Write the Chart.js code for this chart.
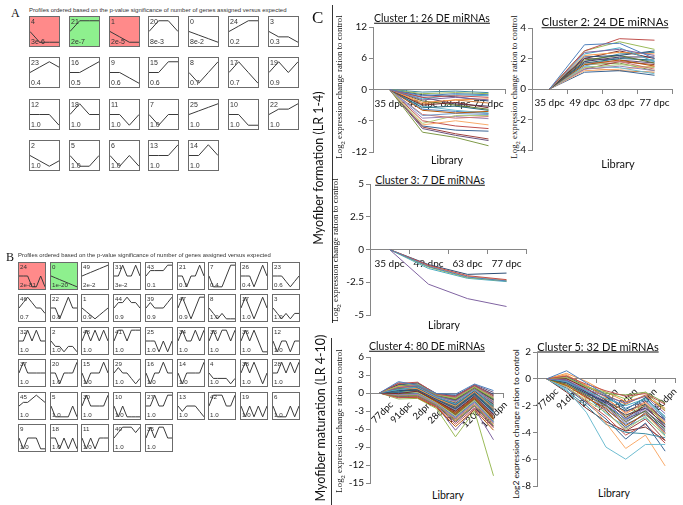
<!DOCTYPE html>
<html>
<head>
<meta charset="utf-8">
<script src="https://cdn.jsdelivr.net/npm/chart.js@4.4.1/dist/chart.umd.min.js"></script>
<style>
  html, body { margin: 0; padding: 0; background: #fff; }
  body { position: relative; width: 683px; height: 505px; overflow: hidden; font-family: Lato, "Liberation Sans", sans-serif; color: #111; }
  .t { position: absolute; white-space: nowrap; line-height: 1; }
  .rot { transform: translate(-50%, -50%) rotate(-90deg); }
  .ctr { transform: translate(-50%, -50%); }
  .serif { font-family: "Liberation Serif", "DejaVu Serif", serif; }
  .box { position: absolute; box-sizing: border-box; border: 1px solid #6b6b6b; }
  .box canvas { display: block; }
  .bl { position: absolute; font-family: "Liberation Sans", Arial, sans-serif; color: #333; line-height: 1; white-space: nowrap; }
  .vline { position: absolute; width: 1px; background: #333; }
</style>
</head>
<body>
<script>
// ---- panel A profiles (4 time points) ----
const aIds = [4, 21, 1, 20, 0, 24, 3, 23, 16, 9, 15, 8, 17, 19, 12, 18, 11, 7, 25, 10, 22, 2, 5, 6, 13, 14];
const aPvals = ['3e-6', '2e-7', '2e-5', '8e-3', '8e-2', '0.2', '0.3', '0.4', '0.5', '0.6', '0.6', '0.7', '0.7', '0.9',
  '1.0', '1.0', '1.0', '1.0', '1.0', '1.0', '1.0', '1.0', '1.0', '1.0', '1.0', '1.0'];
const aProfiles = [
  [0, -1, -1, -1], [0, 1, 1, 1], [0, -1, -2, -2], [0, 1, 1, 0], [0, -1, -2, -3], [0, 1, 2, 2], [0, -1, -1, -2],
  [0, 1, 2, 1], [0, 0, 1, 2], [0, 0, -1, -2], [0, 0, 1, 1], [0, -1, 0, 1], [0, 1, 0, -1], [0, 1, 0, 1],
  [0, 0, 0, -1], [0, 1, 0, 0], [0, 0, -1, 0], [0, -1, 0, 0], [0, 1, 2, 3], [0, 0, -1, -1], [0, 1, 1, 2],
  [0, -1, -2, -1], [0, -1, -1, 0], [0, -1, 0, -1], [0, 0, 0, 1], [0, 0, 1, 0]
];
const aColors = ['#ff8a8a', '#8ef08e', '#ff8a8a'];

// ---- panel B profiles (7 time points) ----
const bIds = [24, 0, 49, 31, 43, 21, 7, 26, 23,
  46, 22, 1, 44, 39, 47, 8, 17, 3,
  32, 2, 48, 41, 25, 34, 33, 36, 12,
  37, 20, 15, 29, 16, 14, 4, 38, 28,
  45, 5, 30, 10, 27, 13, 42, 19, 6,
  9, 18, 11, 40, 35];
const bPvals = ['2e-81', '1e-20', '2e-2', '3e-2', '0.1', '0.1', '0.4', '0.4', '0.6',
  '0.7', '0.8', '0.9', '0.9', '0.9', '0.9', '1.0', '1.0', '1.0'];
const bProfiles = [
  [0, 0, 0, -1, -1, 0, -1], [0, -1, -2, -3, -4, -5, -6], [0, 1, 2, 3, 4, 5, 6], [0, 0, 1, 0, 0, 1, 0], [0, 1, 1, 1, 1, 2, 2],
  [0, 0, -1, 0, 0, 1, 0], [0, -1, -1, -1, 0, 1, 1], [0, 0, 0, -1, 0, 1, 0], [0, 0, 0, -1, -2, -1, 0],
  [0, 1, 2, 1, 0, 0, -1], [0, 0, -1, 0, 1, 0, 0], [0, -1, -2, -3, -2, -1, 0], [0, 1, 1, 2, 1, 1, 0], [0, 1, 0, 0, 0, 1, 2],
  [0, 1, 0, -1, 0, 1, 1], [0, -1, -2, -1, -2, -2, -2], [0, 1, 0, -1, 0, 1, 0], [0, -1, -2, -1, -2, -1, -1],
  [0, 0, 1, 0, 1, 0, 0], [0, -1, -1, -2, -1, -1, -2], [0, 1, 0, 1, 0, 1, 0], [0, 1, 1, 0, 1, 1, 1], [0, 0, 0, -1, 0, -1, 0],
  [0, 1, 0, 0, 1, 0, 1], [0, 1, 0, 1, 1, 0, 1], [0, 1, 0, 1, 0, -1, -1], [0, -1, 0, 0, -1, 0, 0],
  [0, 1, 0, 0, 0, 0, 0], [0, 0, -1, 0, 0, 0, 1], [0, -1, 0, 0, 0, 1, 0], [0, 1, 0, 0, -1, -2, -1], [0, -1, 0, 0, 1, 0, 0],
  [0, -1, 0, 0, 0, 0, 1], [0, -1, -1, -1, -1, -2, -1], [0, 1, 0, 1, 0, -1, 0], [0, 0, 1, 0, 1, 0, 1],
  [0, 1, 1, 2, 3, 2, 1], [0, -1, -1, -1, -1, 0, -1], [0, 1, 0, 0, 0, 0, 1], [0, -1, 0, -1, -1, -1, -1], [0, 0, 1, 0, 0, 1, 1],
  [0, -1, 0, 0, 0, -1, -2], [0, 1, 1, 1, 0, 0, 1], [0, -1, 0, -1, 0, -1, 0], [0, -1, -1, -1, 0, -1, 0],
  [0, -1, 0, 0, 0, -1, -1], [0, 0, -1, 0, -1, 0, -1], [0, -1, 0, -1, 0, 0, 0], [0, 1, 2, 2, 2, 1, 2], [0, 1, 0, 1, 1, 0, 0]
];
const bColors = ['#ff8a8a', '#8ef08e'];

// ---- panel C clusters ----
const dpcLabels = ['35 dpc', '49 dpc', '63 dpc', '77 dpc'];
const devLabels = ['77dpc', '91dpc', '2dpn', '28dpn', '90dpn', '120dpn', '180dpn'];

const cluster1 = [
  [0, -1.2, -0.8, -1.0], [0, -1.5, -1.2, -1.5], [0, -0.8, -0.6, -0.8], [0, -2.0, -1.5, -2.0], [0, -1.8, -1.0, -1.2],
  [0, -2.5, -2.0, -1.8], [0, -1.0, -1.4, -2.2], [0, -3.0, -2.5, -3.5], [0, -2.2, -3.0, -3.8], [0, -1.5, -2.8, -3.2],
  [0, -3.5, -3.2, -4.0], [0, -4.0, -4.5, -4.2], [0, -5.0, -4.6, -4.8], [0, -4.8, -5.5, -5.2], [0, -6.5, -5.0, -5.0],
  [0, -5.5, -5.2, -5.6], [0, -3.2, -4.0, -4.5], [0, -6.8, -6.0, -6.8], [0, -7.0, -7.8, -8.0], [0, -7.2, -8.5, -9.5],
  [0, -8.2, -9.2, -10.8], [0, -7.5, -8.8, -9.8], [0, -0.5, -0.3, -0.6], [0, -2.8, -2.0, -2.6], [0, -3.8, -4.2, -4.6],
  [0, -6.0, -7.0, -7.5]
];
const cluster2 = [
  [0, 2.9, 3.0, 2.0], [0, 2.5, 3.3, 3.2], [0, 2.5, 3.1, 2.6], [0, 2.4, 2.6, 2.2], [0, 2.3, 2.7, 1.8], [0, 2.2, 2.4, 2.3],
  [0, 2.1, 2.2, 2.5], [0, 2.0, 2.5, 2.0], [0, 1.9, 2.2, 1.7], [0, 1.8, 2.1, 2.1], [0, 1.7, 2.0, 1.9], [0, 1.6, 1.9, 1.5],
  [0, 1.5, 2.1, 1.8], [0, 1.7, 1.8, 1.3], [0, 1.4, 1.6, 1.4], [0, 1.3, 1.5, 1.2], [0, 1.5, 1.4, 1.0], [0, 1.2, 1.3, 1.5],
  [0, 1.1, 1.2, 0.9], [0, 1.3, 1.8, 1.6], [0, 1.6, 1.7, 1.2], [0, 2.0, 1.9, 1.7], [0, 1.8, 2.3, 2.4], [0, 1.4, 1.2, 1.1]
];
const cluster3 = [
  [0, -1.3, -2.1, -2.4], [0, -1.2, -2.0, -2.3], [0, -1.35, -2.15, -2.4], [0, -2.65, -3.75, -4.35],
  [0, -1.45, -2.2, -2.45], [0, -1.25, -2.05, -2.35], [0, -1.15, -1.9, -1.8]
];
const cluster4 = [
  [0, 1.9, 1.3, -0.1, -0.2, 1.5, 0.4], [0, 1.6, 1.8, -0.2, -0.6, 1.3, -0.4], [0, 1.2, 1.5, -0.3, -0.9, 1.0, -0.9],
  [0, 0.9, 1.2, -0.5, -1.3, 0.7, -1.5], [0, 0.6, 1.0, -0.7, -1.8, 0.5, -2.1], [0, 1.1, 0.7, -0.9, -2.2, 0.2, -2.6],
  [0, 0.4, 0.5, -1.1, -2.6, -0.2, -3.1], [0, -0.1, 0.3, -1.3, -3.0, -0.5, -3.6], [0, 0.7, 1.1, -0.4, -1.1, 0.9, -1.1],
  [0, 1.4, 0.9, -0.8, -1.7, 0.3, -1.9], [0, 0.2, 0.6, -1.0, -2.3, -0.1, -2.8], [0, 0.9, 0.4, -1.5, -3.4, -0.8, -4.2],
  [0, 0.5, 0.8, -0.6, -1.4, 0.4, -1.6], [0, 1.0, 1.4, -0.2, -0.8, 1.1, -0.7], [0, 0.3, 0.1, -1.6, -3.8, -1.2, -4.6],
  [0, -0.3, -0.2, -1.8, -4.2, -1.6, -5.0], [0, 0.8, 0.5, -1.2, -2.9, -0.4, -3.3], [0, 1.2, 1.0, -0.6, -1.6, 0.6, -1.4],
  [0, 0.1, 0.3, -0.9, -2.0, 0.1, -2.5], [0, 0.6, 0.2, -1.4, -3.1, -0.7, -3.9], [0, -0.5, -0.4, -2.0, -4.6, -2.0, -5.4],
  [0, 1.7, 1.5, -0.3, -0.5, 1.4, 0.1], [0, 0.4, 0.7, -0.8, -1.9, 0.2, -2.3], [0, 0.9, 0.6, -1.1, -2.5, -0.2, -2.9],
  [0, 0.2, -0.1, -1.7, -4.0, -1.4, -4.8], [0, -0.8, -0.6, -2.3, -5.2, -2.5, -5.8], [0, 1.1, 1.2, -0.4, -1.0, 0.8, -0.8],
  [0, 0.5, 0.3, -1.3, -2.7, -0.4, -3.4], [0, 0.0, 0.2, -1.0, -2.2, -0.1, -2.6], [0, 0.7, 0.9, -0.7, -1.5, 0.5, -1.7],
  [0, 1.3, 1.7, -0.1, -0.4, 1.2, -0.2], [0, 0.3, 0.5, -1.2, -3.3, -0.9, -4.4], [0, -0.2, 0.0, -1.5, -3.6, -1.1, -4.1],
  [0, 0.8, 1.0, -0.6, -1.2, 0.7, -1.2], [0, 0.6, 0.4, -1.0, -2.4, -0.3, -3.0], [0, 1.0, 0.8, -0.7, -1.9, 0.1, -2.2],
  [0, 0.2, 0.6, -0.9, -2.1, 0.0, -2.7], [0, -0.4, -0.3, -1.9, -4.4, -1.8, -5.2], [0, 1.5, 1.1, -0.4, -0.9, 1.0, -0.6],
  [0, 0.4, 0.2, -1.3, -3.0, -0.6, -3.7], [0, 0.9, 1.3, -0.5, -1.3, 0.6, -1.3], [0, 0.1, -0.2, -1.6, -3.9, -1.3, -4.5],
  [0, 0.7, 0.5, -1.1, -2.6, -0.3, -3.2], [0, 1.2, 0.9, -0.8, -1.6, 0.4, -1.6], [0, 0.5, 0.7, -0.7, -1.7, 0.3, -2.0],
  [0, -0.6, -0.5, -2.1, -4.9, -2.2, -5.6], [0, 0.3, 0.4, -1.1, -2.5, -0.2, -3.0], [0, 0.8, 0.6, -1.0, -2.3, 0.0, -2.5],
  [0, 1.4, 1.6, -0.2, -0.7, 1.3, -0.3], [0, 0.0, 0.1, -1.4, -3.5, -1.0, -4.3], [0, 0.6, 0.8, -0.6, -1.4, 0.4, -1.5],
  [0, 1.0, 0.5, -1.2, -2.8, -0.5, -3.5], [0, -0.3, -0.1, -1.7, -4.1, -1.5, -4.9], [0, 0.4, 0.6, -0.9, -2.0, 0.1, -2.4],
  [0, 0.9, 1.1, -0.5, -1.1, 0.8, -1.0], [0, 0.2, 0.0, -1.5, -3.7, -1.2, -4.7], [0, 0.7, 0.3, -1.3, -2.9, -0.6, -3.6],
  [0, 1.1, 1.4, -0.3, -0.8, 1.1, -0.5], [0, 0.5, 0.2, -1.1, -2.7, -0.4, -3.1], [0, -0.7, -0.8, -2.4, -5.6, -2.8, -6.2],
  [0, 0.3, 0.5, -0.8, -1.8, 0.2, -2.2], [0, 0.8, 0.7, -0.9, -2.2, 0.0, -2.6], [0, 0.1, 0.3, -1.2, -3.2, -0.8, -3.8],
  [0, 1.2, 1.0, -0.6, -1.3, 0.7, -1.3], [0, 0.6, 0.4, -1.4, -3.4, -1.0, -4.0], [0, -0.2, -0.3, -1.8, -4.3, -1.7, -5.1],
  [0, 0.9, 1.2, -0.4, -1.0, 0.9, -0.9], [0, 0.4, 0.1, -1.0, -2.4, -0.2, -2.9], [0, 0.2, 0.4, -1.3, -3.0, -0.7, -3.5],
  [0, 1.0, 0.8, -0.7, -1.7, 0.4, -1.8], [0, 0.5, 0.6, -1.1, -2.6, -0.5, -3.3], [0, -0.4, -0.2, -1.9, -4.7, -2.1, -5.5],
  [0, 0.7, 0.9, -0.6, -1.5, 0.5, -1.4], [0, 0.3, 0.2, -1.2, -2.9, -0.6, -3.4], [0, -1.0, -0.9, -2.6, -7.3, -3.0, -13.8],
  [0, -0.6, -0.7, -2.2, -6.2, -2.6, -7.8], [0, 0.8, 0.6, -0.8, -1.9, 0.3, -2.1], [0, 0.1, 0.0, -1.6, -3.6, -1.1, -4.3],
  [0, 1.3, 1.2, -0.5, -1.2, 0.8, -1.1], [0, 0.4, 0.3, -1.0, -2.3, -0.3, -2.8]
];
const cluster5 = [
  [0, 0.6, -0.3, -1.2, -2.2, -1.6, -3.0], [0, 0.2, -0.4, -0.9, -1.3, -1.1, -1.9], [0, 0.1, -0.6, -1.0, -1.5, -1.0, -2.3],
  [0, -0.1, -0.8, -1.3, -1.8, -1.3, -2.6], [0, -0.2, -0.9, -1.5, -2.0, -1.5, -2.8], [0, 0.3, -0.5, -1.4, -2.6, -1.8, -3.3],
  [0, -0.3, -1.1, -1.7, -2.4, -1.9, -3.1], [0, 0.0, -0.7, -1.6, -2.9, -2.0, -3.6], [0, -0.4, -1.2, -2.0, -3.2, -2.4, -3.8],
  [0, -0.1, -1.0, -1.8, -2.7, -2.2, -3.4], [0, 0.2, -0.6, -1.3, -2.3, -1.4, -2.9], [0, -0.5, -1.4, -2.2, -3.5, -2.6, -4.1],
  [0, -0.2, -0.9, -1.9, -3.0, -2.1, -3.5], [0, 0.1, -0.8, -1.5, -2.5, -1.7, -3.2], [0, -0.6, -1.6, -2.5, -3.8, -2.8, -4.3],
  [0, -0.3, -1.2, -2.1, -3.3, -2.3, -3.9], [0, -0.8, -2.5, -5.1, -6.0, -4.9, -4.9], [0, -0.4, -1.5, -3.3, -5.2, -4.2, -6.5],
  [0, -0.7, -1.8, -3.0, -4.5, -3.3, -5.4], [0, -0.5, -1.3, -2.4, -3.9, -3.0, -4.6], [0, 0.0, -0.6, -1.1, -1.2, -1.0, -1.8],
  [0, -0.2, -1.0, -1.9, -3.7, -2.5, -4.0], [0, -0.9, -2.0, -3.4, -4.0, -4.1, -4.4], [0, 0.1, -0.5, -1.2, -1.9, -1.2, -2.4],
  [0, -0.3, -1.1, -2.3, -3.4, -2.7, -3.7], [0, -0.6, -1.7, -2.8, -4.2, -3.4, -4.8], [0, 0.2, -0.7, -1.6, -2.8, -1.9, -3.4],
  [0, -0.1, -0.9, -1.7, -3.1, -2.2, -3.0], [0, -0.4, -1.3, -2.6, -3.6, -2.9, -4.2], [0, 0.4, -0.2, -1.0, -1.7, -1.3, -2.2],
  [0, -0.2, -1.0, -2.0, -3.0, -2.4, -3.6], [0, -1.0, -2.2, -3.2, -3.9, -3.6, -4.6]
];

const PAL = ['#4F81BD', '#C0504D', '#9BBB59', '#8064A2', '#4BACC6', '#F79646',
  '#2C4D75', '#772C2A', '#5F7530', '#4D3B62', '#276A7C', '#B65708',
  '#729ACA', '#CD7371', '#AFC97A', '#9983B5', '#6FBDD1', '#F9AB6B',
  '#3A6595', '#9E413E', '#7F9A48', '#69537E', '#3E8DA3', '#CC7B38'];
const AX = '#868686';
const FONT = 'Lato, "Liberation Sans", sans-serif';

function addText(html, x, y, css, cls) {
  const d = document.createElement('div');
  d.className = 't ' + (cls || '');
  d.style.cssText = `left:${x}px;top:${y}px;` + (css || '');
  d.innerHTML = html;
  document.body.appendChild(d);
  return d;
}

function vline(x, y1, y2) {
  const d = document.createElement('div');
  d.className = 'vline';
  d.style.cssText = `left:${x}px;top:${y1}px;height:${y2 - y1}px`;
  document.body.appendChild(d);
}

function profileBox(x, y, w, h, id, pval, prof, fill, k, fs) {
  const d = document.createElement('div');
  d.className = 'box';
  d.style.cssText = `left:${x}px;top:${y}px;width:${w}px;height:${h}px;background:${fill || '#fff'}`;
  const cv = document.createElement('canvas');
  cv.width = w - 2; cv.height = h - 2;
  d.appendChild(cv);
  const n = document.createElement('div');
  n.className = 'bl';
  n.style.cssText = `left:1px;top:1px;font-size:${fs}px`;
  n.textContent = id;
  const p = document.createElement('div');
  p.className = 'bl';
  p.style.cssText = `left:1px;bottom:1px;font-size:${fs}px`;
  p.textContent = pval;
  d.appendChild(n); d.appendChild(p);
  document.body.appendChild(d);
  const m = Math.max(...prof.map(Math.abs)) || 1;
  new Chart(cv, {
    type: 'line',
    data: { labels: prof.map((_, i) => i), datasets: [{ data: prof, borderColor: '#3a3a3a', borderWidth: 1, pointRadius: 0, tension: 0 }] },
    options: {
      responsive: false, animation: false, events: [],
      plugins: { legend: { display: false }, tooltip: { enabled: false } },
      layout: { padding: 0 },
      scales: { x: { display: false }, y: { display: false, min: -m * k, max: m * k } }
    }
  });
}

function clusterChart(c) {
  const yW = 34, pl = 2, pr = 8, pt = 8, pb = 10;
  const left = c.L - yW - pl, top = c.T - pt;
  const w = c.R + pr - left, h = c.B + pb - top;
  const cv = document.createElement('canvas');
  cv.width = w; cv.height = h;
  cv.style.cssText = `position:absolute;left:${left}px;top:${top}px;width:${w}px;height:${h}px`;
  document.body.appendChild(cv);
  new Chart(cv, {
    type: 'line',
    data: {
      labels: c.labels,
      datasets: c.series.map((s, i) => ({ data: s, borderColor: PAL[i % PAL.length], borderWidth: 1, pointRadius: 0, tension: 0, fill: false }))
    },
    options: {
      responsive: false, animation: false, events: [],
      plugins: { legend: { display: false }, tooltip: { enabled: false } },
      layout: { padding: { left: pl, right: pr, top: pt, bottom: pb } },
      scales: {
        x: {
          position: { y: 0 }, offset: true,
          grid: { drawOnChartArea: false, drawTicks: true, tickLength: 4, color: AX, offset: true },
          border: { display: true, color: AX, width: 1 },
          ticks: { autoSkip: false, maxRotation: c.rot, minRotation: c.rot, labelOffset: c.lo || 0, padding: c.tp || 1,
            color: '#111', font: { family: FONT, size: c.xfs || 10 } },
          afterFit(s) { s.height = 0; s.paddingLeft = 0; s.paddingRight = 0; }
        },
        y: {
          min: c.ymin, max: c.ymax,
          ticks: { stepSize: c.step, color: '#111', padding: 2, font: { family: FONT, size: 10 } },
          grid: { drawOnChartArea: false, drawTicks: true, tickLength: 4, color: AX },
          border: { display: true, color: AX, width: 1 },
          afterFit(s) { s.width = yW; s.paddingTop = 0; s.paddingBottom = 0; }
        }
      }
    }
  });
}

// ---- panel A ----
addText('A', 11, 7, 'font-size:12px;', 'serif');
addText('Profiles ordered based on the p-value significance of number of genes assigned versus expected', 29, 7,
  'font-family:"Liberation Sans",Arial,sans-serif;font-size:6px;color:#333;');
aIds.forEach((id, i) => {
  const col = i % 7, row = Math.floor(i / 7);
  profileBox(Math.round(29 + col * 39.8), Math.round(15.5 + row * 41.5), 31, 31, id, aPvals[i], aProfiles[i], aColors[i], 1.35, 7);
});

// ---- panel B ----
addText('B', 6, 251, 'font-size:12px;', 'serif');
addText('Profiles ordered based on the p-value significance of number of genes assigned versus expected', 18, 253,
  'font-family:"Liberation Sans",Arial,sans-serif;font-size:5.9px;color:#333;');
bIds.forEach((id, i) => {
  const col = i % 9, row = Math.floor(i / 9);
  profileBox(Math.round(18 + col * 31.7), Math.round(262 + row * 32.4), 28, 28, id, bPvals[i] || '1.0', bProfiles[i], bColors[i], 1.2, 6.2);
});

// ---- panel C ----
addText('C', 312, 9, 'font-size:17px;', 'serif');
vline(332, 5, 323);
vline(331, 338, 505);
addText('Myofiber formation (LR 1-4)', 319, 168, 'font-size:12.5px;', 'rot');
addText('Myofiber maturation (LR 4-10)', 321, 418, 'font-size:12.5px;', 'rot');

const ylab = 'Log<sub style="font-size:0.75em">2</sub> expression change ration to control';
addText(ylab, 341, 87, 'font-size:8.8px;', 'rot serif');
addText(ylab, 516, 87, 'font-size:8.8px;', 'rot serif');
addText(ylab, 337, 250, 'font-size:8.8px;', 'rot serif');
addText(ylab, 341, 421, 'font-size:8.8px;', 'rot serif');
addText('Log2 expression change ration to control', 516, 424, 'font-size:8.4px;', 'rot');

const titleCss = 'text-decoration:underline;';
addText('Cluster 1: 26 DE miRNAs', 432, 18, titleCss + 'font-size:10.5px;', 'ctr');
addText('Cluster 2: 24 DE miRNAs', 605, 22, titleCss + 'font-size:11.5px;', 'ctr');
addText('Cluster 3: 7 DE miRNAs', 430, 180, titleCss + 'font-size:10.5px;', 'ctr');
addText('Cluster 4: 80 DE miRNAs', 427, 346, titleCss + 'font-size:10.5px;', 'ctr');
addText('Cluster 5: 32 DE miRNAs', 598, 346, titleCss + 'font-size:11px;', 'ctr');

addText('Library', 447, 160, 'font-size:10.5px;', 'ctr');
addText('Library', 618, 163, 'font-size:11px;', 'ctr');
addText('Library', 444, 325, 'font-size:10.5px;', 'ctr');
addText('Library', 448, 495, 'font-size:10.5px;', 'ctr');
addText('Library', 614, 493, 'font-size:10.5px;', 'ctr');

clusterChart({ L: 373, R: 505, T: 27, B: 152, ymin: -12, ymax: 12, step: 6, labels: dpcLabels, series: cluster1, rot: 0, tp: 4 });
clusterChart({ L: 532, R: 672, T: 28, B: 150, ymin: -4, ymax: 4, step: 2, labels: dpcLabels, series: cluster2, rot: 0, tp: 4 });
clusterChart({ L: 370, R: 526, T: 184, B: 315, ymin: -5, ymax: 5, step: 2.5, labels: dpcLabels, series: cluster3, rot: 0, tp: 4 });
clusterChart({ L: 370, R: 503, T: 357, B: 483, ymin: -15, ymax: 6, step: 3, labels: devLabels, series: cluster4, rot: 45, lo: 12, tp: 2, xfs: 9.5 });
clusterChart({ L: 537, R: 675, T: 352, B: 486, ymin: -8, ymax: 2, step: 2, labels: devLabels, series: cluster5, rot: 45, lo: 10, tp: 3, xfs: 9.5 });
</script>
</body>
</html>
